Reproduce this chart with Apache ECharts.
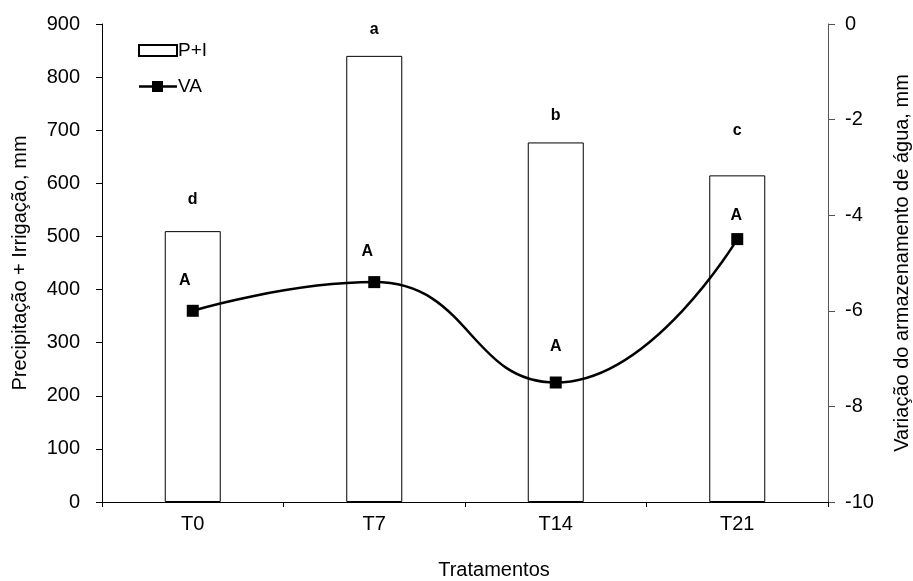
<!DOCTYPE html>
<html>
<head>
<meta charset="utf-8">
<script src="https://cdn.jsdelivr.net/npm/echarts@6/dist/echarts.min.js"></script>
<style>
  html, body { margin: 0; padding: 0; background: #fff; }
  #chart { width: 913px; height: 581px; }
</style>
</head>
<body>
<div id="chart"></div>
<script>
const categories = ["T0", "T7", "T14", "T21"];
const precipIrrig = [510, 840, 677, 615];
const storageVar = [-6.0, -5.4, -7.5, -4.5];
const barLetters = ["d", "a", "b", "c"];
const lineLetters = ["A", "A", "A", "A"];

// letter placement tweaks (style only)
const barLetterGap = [24, 18, 19, 37];
const lineLetterOffset = [[-8, 0], [-7, -1], [0, -6], [-1, 6]];

const font = "Liberation Sans, Arial, sans-serif";
const chart = echarts.init(document.getElementById("chart"));

const option = {
  animation: false,
  textStyle: { fontFamily: font, color: "#000" },
  grid: { left: 102, right: 85, top: 24, bottom: 79, outerBoundsMode: "none" },
  legend: {
    orient: "vertical",
    left: 133,
    top: 36,
    itemWidth: 38,
    itemHeight: 11,
    itemGap: 17,
    textStyle: { fontSize: 19, fontFamily: font, color: "#000", padding: [0, 0, 0, -4] },
    data: [
      { name: "P+I", icon: "rect" },
      { name: "VA", icon: "path://M0,4.3H13V0H24V4.3H38V6.7H24V11H13V6.7H0Z" }
    ]
  },
  xAxis: {
    type: "category",
    data: categories,
    name: "Tratamentos",
    nameLocation: "middle",
    nameGap: 58,
    nameTextStyle: { fontSize: 20, fontFamily: font, color: "#000", padding: [0, 0, 0, 58] },
    axisLine: { lineStyle: { color: "#000", width: 1 } },
    axisTick: { show: true, length: 5, lineStyle: { color: "#000" } },
    axisLabel: { fontSize: 20, color: "#000", margin: 12 },
    splitLine: { show: false }
  },
  yAxis: [
    {
      type: "value",
      min: 0,
      max: 900,
      interval: 100,
      name: "Precipitação + Irrigação, mm",
      nameLocation: "middle",
      nameRotate: 90,
      nameGap: 72,
      nameTextStyle: { fontSize: 20, fontFamily: font, color: "#000" },
      axisLine: { show: true, lineStyle: { color: "#000" } },
      axisTick: { show: true, length: 6, lineStyle: { color: "#000" } },
      axisLabel: { fontSize: 20, color: "#000", margin: 22 },
      splitLine: { show: false }
    },
    {
      type: "value",
      min: -10,
      max: 0,
      interval: 2,
      position: "right",
      name: "Variação do armazenamento de água, mm",
      nameLocation: "middle",
      nameRotate: 90,
      nameGap: 64,
      nameTextStyle: { fontSize: 20, fontFamily: font, color: "#000" },
      axisLine: { show: true, lineStyle: { color: "#555" } },
      axisTick: { show: true, length: 7, lineStyle: { color: "#555" } },
      axisLabel: { fontSize: 20, color: "#000", margin: 17 },
      splitLine: { show: false }
    }
  ],
  series: [
    {
      name: "P+I",
      type: "bar",
      barWidth: 56,
      itemStyle: { color: "#fff", borderColor: "#000", borderWidth: 1 },
      label: {
        show: true,
        position: "top",
        fontSize: 16,
        fontWeight: "bold",
        color: "#000",
        formatter: p => barLetters[p.dataIndex]
      },
      data: precipIrrig.map((v, i) => ({ value: v, label: { distance: barLetterGap[i] } }))
    },
    {
      name: "VA",
      type: "line",
      yAxisIndex: 1,
      smooth: 0.5,
      symbol: "rect",
      symbolSize: 12,
      showAllSymbol: true,
      lineStyle: { color: "#000", width: 2.5 },
      itemStyle: { color: "#000" },
      label: {
        show: true,
        position: "top",
        distance: 16,
        fontSize: 16,
        fontWeight: "bold",
        color: "#000",
        formatter: p => lineLetters[p.dataIndex]
      },
      data: storageVar.map((v, i) => ({ value: v, label: { offset: lineLetterOffset[i] } }))
    }
  ]
};

chart.setOption(option);
</script>
</body>
</html>
